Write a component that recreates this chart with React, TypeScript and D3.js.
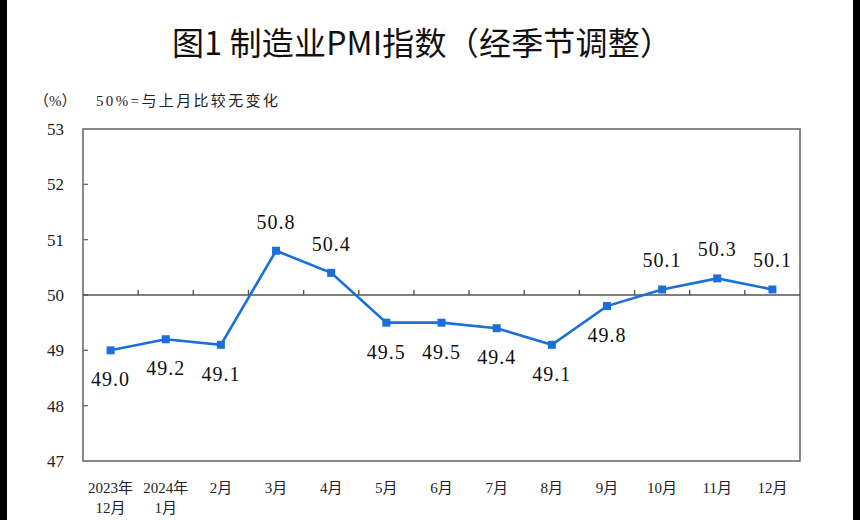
import React from "react";
import * as d3 from "d3";

// 月份标签（两行）
const monthsTop = ["2023年", "2024年", "2月", "3月", "4月", "5月", "6月", "7月", "8月", "9月", "10月", "11月", "12月"];
const monthsBottom = ["12月", "1月", "", "", "", "", "", "", "", "", "", "", ""];
const pmiValues = [49.0, 49.2, 49.1, 50.8, 50.4, 49.5, 49.5, 49.4, 49.1, 49.8, 50.1, 50.3, 50.1];
const yTicks = [47, 48, 49, 50, 51, 52, 53];

const W = 860;
const H = 520;
const margin = { top: 129, right: 60, bottom: 59, left: 83 };

export default function App() {
  const plotW = W - margin.left - margin.right;
  const plotH = H - margin.top - margin.bottom;

  const x = d3.scaleBand<number>()
    .domain(d3.range(pmiValues.length))
    .range([margin.left, margin.left + plotW]);
  const y = d3.scaleLinear().domain([47, 53]).range([margin.top + plotH, margin.top]);

  const cx = (i: number) => (x(i) as number) + x.bandwidth() / 2;
  const line = d3.line<number>()
    .x((_, i) => cx(i))
    .y((d) => y(d));

  const axisColor = "#6b6b6b";
  const blue = "#1a6fd8";
  const serif = "'Liberation Serif', 'Times New Roman', 'Noto Sans CJK SC', serif";

  return (
    <div style={{ position: "fixed", left: 0, top: 0 }}>
      <svg width={W} height={H} style={{ display: "block", background: "#fff" }}>
        <rect x={0} y={0} width={7} height={H} fill="#000" />
        <rect x={853} y={0} width={7} height={H} fill="#000" />

        {/* 标题 */}
        <text x={172} y={55} fontSize={32} fontWeight={400} textLength={500} lengthAdjust="spacing"
          fontFamily="'Noto Sans CJK SC', sans-serif" fill="#111">
          图1  制造业PMI指数（经季节调整）
        </text>
        <text x={34} y={106} fontSize={15} fontFamily={serif} fill="#222">（%）</text>
        <text x={96} y={106} fontSize={15} fontFamily={serif} fill="#222"
          textLength={182} lengthAdjust="spacing">50%=与上月比较无变化</text>

        {/* 边框 */}
        <rect x={margin.left} y={margin.top} width={plotW} height={plotH}
          fill="none" stroke={axisColor} strokeWidth={1.6} />

        {/* 纵轴刻度 */}
        {yTicks.map((t) => (
          <g key={t}>
            {t > 47 && t < 53 && (
              <line x1={margin.left} x2={margin.left + 5} y1={y(t)} y2={y(t)}
                stroke={axisColor} strokeWidth={1.4} />
            )}
            <text x={margin.left - 19} y={y(t)} dy="0.35em" textAnchor="end"
              fontSize={17} fontFamily={serif} fill="#222">{t}</text>
          </g>
        ))}

        {/* 50 参考线 */}
        <line x1={margin.left} x2={margin.left + plotW} y1={y(50)} y2={y(50)}
          stroke="#555" strokeWidth={1.6} />
        {d3.range(1, pmiValues.length).map((i) => (
          <line key={i} x1={x(i) as number} x2={x(i) as number} y1={y(50)} y2={y(50) - 5}
            stroke="#555" strokeWidth={1.4} />
        ))}

        {/* 折线 */}
        <path d={line(pmiValues) ?? ""} fill="none" stroke={blue} strokeWidth={2.6} />
        {pmiValues.map((v, i) => (
          <rect key={i} x={cx(i) - 4} y={y(v) - 4} width={8} height={8} fill={blue} />
        ))}

        {/* 数据标签 */}
        {pmiValues.map((v, i) => (
          <text key={i} x={cx(i)} y={y(v) + (v >= 50 ? -29 : 29)} dy="0.35em"
            textAnchor="middle" fontSize={20} letterSpacing={1} fontFamily={serif} fill="#111">
            {v.toFixed(1)}
          </text>
        ))}

        {/* 横轴标签 */}
        {monthsTop.map((m, i) => (
          <g key={i} fontSize={15} fontFamily={serif} fill="#222" textAnchor="middle">
            <text x={cx(i)} y={488} dy="0.35em">{m}</text>
            {monthsBottom[i] && <text x={cx(i)} y={508} dy="0.35em">{monthsBottom[i]}</text>}
          </g>
        ))}
      </svg>
    </div>
  );
}
